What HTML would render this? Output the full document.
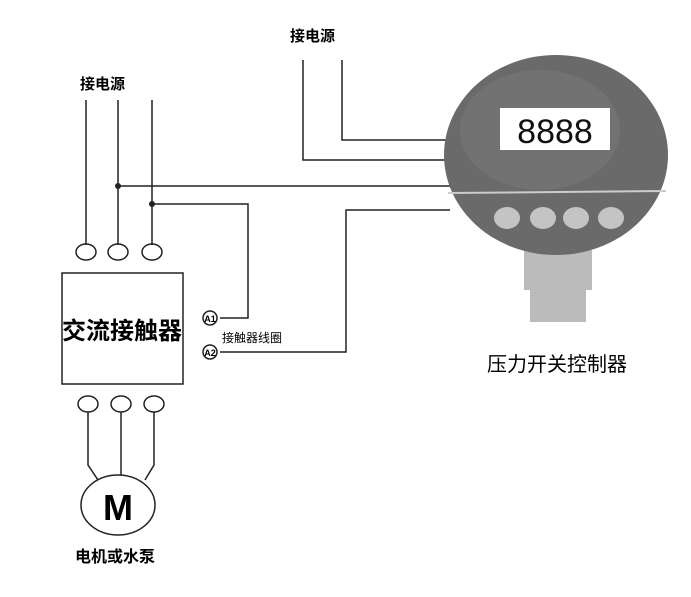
<!DOCTYPE html>
<html><head><meta charset="utf-8"><style>
body{margin:0;background:#fff;width:691px;height:597px;overflow:hidden}
svg{display:block}
text{font-family:"Liberation Sans","Noto Sans CJK SC",sans-serif}
</style></head><body>
<svg width="691" height="597" viewBox="0 0 691 597" xmlns="http://www.w3.org/2000/svg">
<g stroke="#222" stroke-width="1.5" fill="none">
<!-- left supply lines -->
<line x1="86" y1="100" x2="86" y2="245"/>
<line x1="118" y1="100" x2="118" y2="245"/>
<line x1="152" y1="100" x2="152" y2="245"/>
<polyline points="118,186 450,186"/>
<polyline points="152,204 248,204 248,318 220,318"/>
<polyline points="220,352 346,352 346,210 450,210"/>
<!-- top right supply -->
<polyline points="342,60 342,140 450,140"/>
<polyline points="303,60 303,160 450,160"/>
<!-- contactor -->
<ellipse cx="86" cy="252" rx="10" ry="8"/>
<ellipse cx="118" cy="252" rx="10" ry="8"/>
<ellipse cx="152" cy="252" rx="10" ry="8"/>
<rect x="62" y="273" width="121" height="111"/>
<ellipse cx="88" cy="404" rx="10" ry="8"/>
<ellipse cx="121" cy="404" rx="10" ry="8"/>
<ellipse cx="154" cy="404" rx="10" ry="8"/>
<polyline points="88,412 88,465 98,480"/>
<line x1="121" y1="412" x2="121" y2="475"/>
<polyline points="154,412 154,465 145,480"/>
<ellipse cx="118" cy="505" rx="37" ry="30"/>
<circle cx="210" cy="318" r="7"/>
<circle cx="210" cy="352" r="7"/>
</g>
<circle cx="118" cy="186" r="3" fill="#222"/>
<circle cx="152" cy="204" r="3" fill="#222"/>
<text x="210" y="322" font-size="9" font-weight="bold" text-anchor="middle">A1</text>
<text x="210" y="356" font-size="9" font-weight="bold" text-anchor="middle">A2</text>
<text x="80" y="89" font-size="15" font-weight="bold">接电源</text>
<text x="290" y="41" font-size="15" font-weight="bold">接电源</text>
<text x="122" y="339" font-size="24" font-weight="bold" text-anchor="middle">交流接触器</text>
<text x="222" y="342" font-size="12">接触器线圈</text>
<text x="118" y="520" font-size="36" font-weight="bold" text-anchor="middle">M</text>
<text x="75" y="562" font-size="16" font-weight="bold">电机或水泵</text>
<text x="487" y="371" font-size="20">压力开关控制器</text>
<!-- pressure controller -->
<rect x="530" y="252" width="56" height="70" fill="#bbb"/>
<rect x="524" y="250" width="68" height="40" fill="#bbb"/>
<ellipse cx="556" cy="155" rx="112" ry="100" fill="#6a6a6a"/>
<ellipse cx="540" cy="130" rx="80" ry="60" fill="#7a7a7a" opacity="0.5"/>
<line x1="448" y1="193" x2="666" y2="191" stroke="#ccc" stroke-width="2"/>
<rect x="500" y="108" width="110" height="42" fill="#fff"/>
<text x="555" y="143" font-size="34" text-anchor="middle" fill="#111">8888</text>
<g fill="#c4c4c4">
<ellipse cx="507" cy="218" rx="13" ry="11"/>
<ellipse cx="543" cy="218" rx="13" ry="11"/>
<ellipse cx="576" cy="218" rx="13" ry="11"/>
<ellipse cx="611" cy="218" rx="13" ry="11"/>
</g>
</svg>
</body></html>
